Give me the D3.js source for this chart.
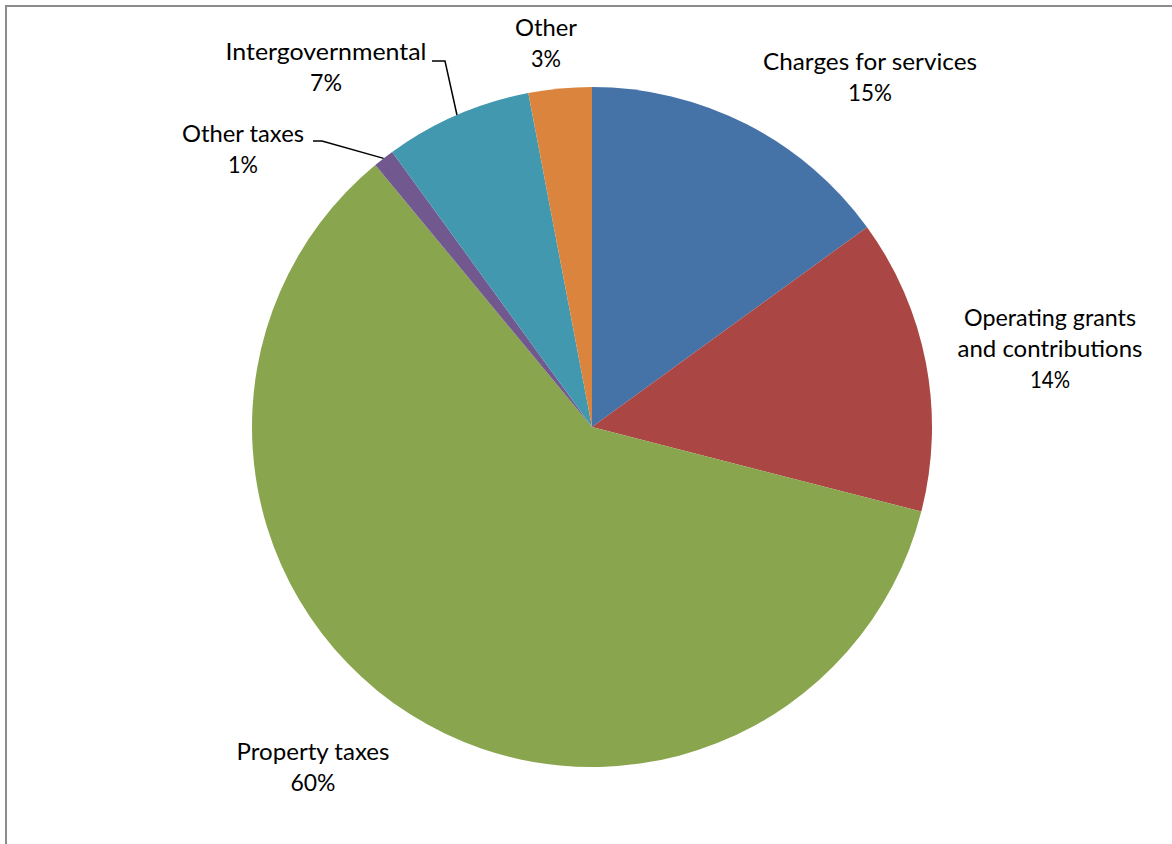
<!DOCTYPE html>
<html>
<head>
<meta charset="utf-8">
<script src="https://cdn.jsdelivr.net/npm/d3@7"></script>
<style>
  html, body { margin: 0; padding: 0; background: #ffffff; }
  svg { display: block; }
  text { font-family: "Lato", "Open Sans", "DejaVu Sans", sans-serif; fill: #000; }
</style>
</head>
<body>
<svg id="chart" width="1172" height="844"></svg>
<script>
// Revenue sources, in pie order (clockwise from 12 o'clock)
const categories = ["Charges for services", "Operating grants and contributions", "Property taxes", "Other taxes", "Intergovernmental", "Other"];
const values = [15, 14, 60, 1, 7, 3];
const labelLines = [
  ["Charges for services"],
  ["Operating grants", "and contributions"],
  ["Property taxes"],
  ["Other taxes"],
  ["Intergovernmental"],
  ["Other"]
];
const colors = ["#4572A7", "#AA4643", "#89A54E", "#71588F", "#4198AF", "#DB843D"];

// Label placement: centre x, first baseline, and the rendered width of each line
const labelLayout = [
  { x: 870, y: 70, widths: [214, 44] },
  { x: 1050, y: 326, widths: [172, 185, 40] },
  { x: 313, y: 760, widths: [153, 45] },
  { x: 243, y: 142, widths: [122, 30], leader: [[313, 141], [322, 141]] },
  { x: 326, y: 60, widths: [201, 32], leader: [[432, 61], [445, 61]] },
  { x: 546, y: 36, widths: [62, 30] }
];

const svg = d3.select("#chart");
const W = 1172, H = 844;
const cx = 592, cy = 427, R = 340;
const lineH = 31;

// Chart frame
svg.append("path")
  .attr("d", `M6,${H + 2} L6,6 L${W + 2},6`)
  .attr("fill", "none")
  .attr("stroke", "#8c8c8c")
  .attr("stroke-width", 2);

const data = categories.map((c, i) => ({ name: c, value: values[i], i }));

const pie = d3.pie().sort(null).value(d => d.value).startAngle(0).endAngle(2 * Math.PI);
const arcs = pie(data);
const arc = d3.arc().innerRadius(0).outerRadius(R);

const g = svg.append("g").attr("transform", `translate(${cx},${cy})`);

g.selectAll("path.slice")
  .data(arcs)
  .join("path")
  .attr("class", "slice")
  .attr("d", arc)
  .attr("fill", d => colors[d.data.i]);

// Leader lines for the narrow slices
arcs.forEach(a => {
  const lay = labelLayout[a.data.i];
  if (!lay.leader) return;
  const mid = (a.startAngle + a.endAngle) / 2;
  const ex = cx + R * Math.sin(mid);
  const ey = cy - R * Math.cos(mid);
  const pts = lay.leader.concat([[ex, ey]]);
  svg.append("path")
    .attr("d", d3.line()(pts))
    .attr("fill", "none")
    .attr("stroke", "#000")
    .attr("stroke-width", 1.5);
});

// Category labels with percentages
arcs.forEach(a => {
  const i = a.data.i;
  const lay = labelLayout[i];
  const lines = labelLines[i].concat([a.data.value + "%"]);
  const t = svg.append("text")
    .attr("text-anchor", "middle")
    .attr("font-size", 23);
  lines.forEach((s, k) => {
    t.append("tspan")
      .attr("x", lay.x)
      .attr("y", lay.y + k * lineH)
      .attr("textLength", lay.widths[k])
      .attr("lengthAdjust", "spacingAndGlyphs")
      .text(s);
  });
});
</script>
</body>
</html>
